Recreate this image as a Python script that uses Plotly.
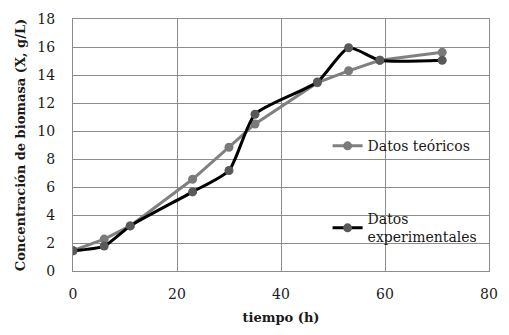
import plotly.graph_objects as go

t_teo = [0, 6, 11, 23, 30, 35, 47, 53, 59, 71]
x_teo = [1.45, 2.28, 3.22, 6.55, 8.84, 10.5, 13.45, 14.3, 15.05, 15.62]
t_exp = [0, 6, 11, 23, 30, 35, 47, 53, 59, 71]
x_exp = [1.45, 1.78, 3.22, 5.65, 7.18, 11.2, 13.5, 15.95, 15.05, 15.05]

FONT = "DejaVu Serif"
fig = go.Figure()
fig.add_trace(go.Scatter(
    x=t_teo, y=x_teo, mode="lines+markers", name="Datos teóricos",
    line=dict(color="#808080", width=3),
    marker=dict(color="#7a7a7a", size=9), legend="legend", showlegend=True))
fig.add_trace(go.Scatter(
    x=t_exp, y=x_exp, mode="lines+markers", name="Datos<br>experimentales",
    line=dict(color="#000000", width=3, shape="spline", smoothing=0.6),
    marker=dict(color="#595959", size=9), legend="legend2", showlegend=True))

grid = "#8c8c8c"
fig.update_layout(
    width=509, height=335,
    margin=dict(l=73, r=19, t=11, b=64),
    paper_bgcolor="white", plot_bgcolor="white",
    showlegend=True,
    font=dict(family=FONT, size=13, color="#1a1a1a"),
    xaxis=dict(range=[0, 80], dtick=20, showgrid=True, gridcolor=grid, gridwidth=1,
               showline=True, linecolor=grid, linewidth=1, mirror=True, zeroline=False,
               ticks="", ticklabelstandoff=10, tickfont=dict(size=14),
               title=dict(text="<b>tiempo (h)</b>", font=dict(size=13), standoff=12)),
    yaxis=dict(range=[0, 18], dtick=2, showgrid=True, gridcolor=grid, gridwidth=1,
               showline=True, linecolor=grid, linewidth=1, mirror=True, zeroline=False,
               ticks="", ticklabelstandoff=14, tickfont=dict(size=14),
               title=dict(text="<b>Concentración de biomasa (X, g/L)</b>", font=dict(size=13), standoff=8)),
    legend=dict(visible=True, x=0.612, y=0.495, xanchor="left", yanchor="middle", bgcolor="rgba(0,0,0,0)",
                font=dict(size=14), itemwidth=30),
    legend2=dict(visible=True, x=0.612, y=0.17, xanchor="left", yanchor="middle", bgcolor="rgba(0,0,0,0)",
                 font=dict(size=14), itemwidth=30),
)
fig.write_html("out.html")
